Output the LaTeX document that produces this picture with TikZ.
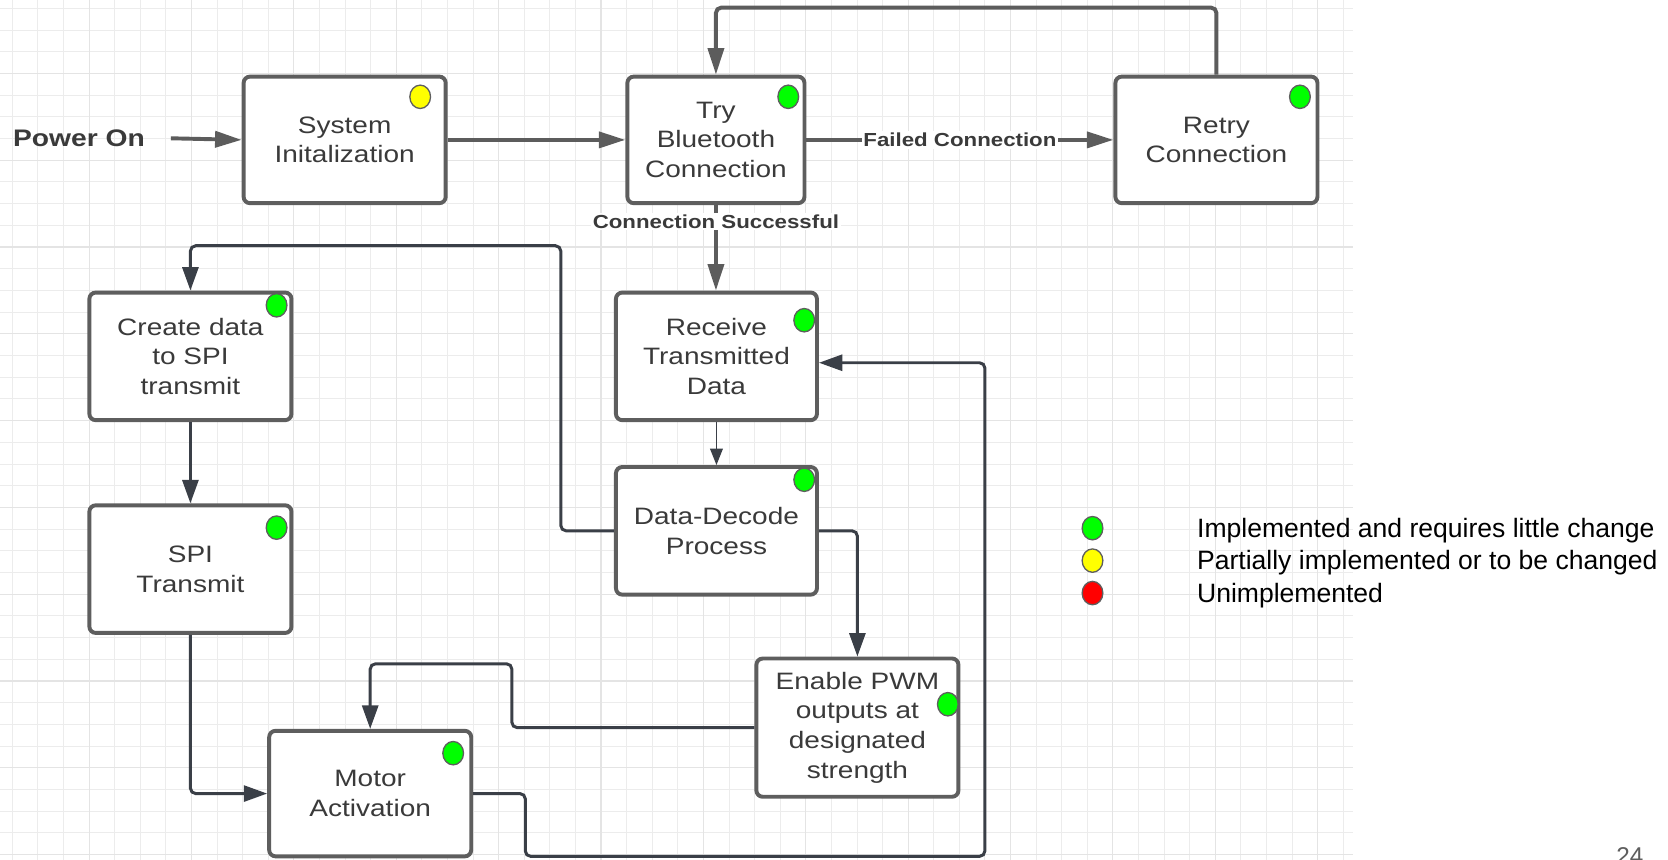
\documentclass[tikz,border=0pt]{standalone}
\usepackage{fontspec}
\setmainfont{Liberation Sans}
\newfontfamily\chartfont{Liberation Sans}[FakeStretch=1.18]
\usepackage{tikz}
\usetikzlibrary{arrows.meta,shapes.geometric}

\definecolor{boxgray}{RGB}{94,94,94}
\definecolor{flowgray}{RGB}{92,92,92}
\definecolor{linkgray}{RGB}{58,63,71}
\definecolor{txtgray}{RGB}{58,58,58}
\definecolor{gridminor}{RGB}{236,236,236}
\definecolor{gridmajor}{RGB}{228,228,228}
\definecolor{ledgreen}{RGB}{0,255,0}
\definecolor{ledyellow}{RGB}{255,255,0}
\definecolor{ledred}{RGB}{255,0,0}

\begin{document}
\begin{tikzpicture}[x=0.02cm,y=-0.02cm,
		state/.style={rectangle,draw=boxgray,line width=2.1pt,rounded corners=0.12cm,fill=white,text=txtgray,align=center,inner sep=0pt,font={\chartfont\fontsize{12.7}{15.9}\selectfont}},
		led/.style={ellipse,draw=boxgray,line width=0.7pt,minimum width=0.39cm,minimum height=0.44cm,inner sep=0pt},
		flow/.style={draw=flowgray,line width=2.1pt,-{Triangle[length=0.5cm,width=0.3cm]}},
		link/.style={draw=linkgray,line width=1.6pt,rounded corners=0.1cm,-{Triangle[length=0.44cm,width=0.3cm]}},
		tag/.style={fill=white,text=txtgray,inner sep=1pt,font={\chartfont\fontsize{10.1}{12}\selectfont\bfseries}},
		keytext/.style={anchor=base west,inner sep=0pt,font={\fontsize{14.2}{17.3}\selectfont}}]
		\useasboundingbox (0,0) rectangle (1568,808);
		\clip (0,0) rectangle (1568,808);

		% grid behind the chart
		\foreach \k in {0,...,52}
			\draw[gridminor,line width=0.5pt] ({11.6+24.06*\k},0) -- ({11.6+24.06*\k},808);
		\foreach \k in {0,...,39}
			\draw[gridminor,line width=0.5pt] (0,{7.8+20.4*\k}) -- (1272,{7.8+20.4*\k});
		\foreach \k in {3,7,...,51}
			\draw[gridmajor,line width=0.6pt] ({11.6+24.06*\k},0) -- ({11.6+24.06*\k},808);
		\foreach \k in {3,7,...,39}
			\draw[gridmajor,line width=0.6pt] (0,{7.8+20.4*\k}) -- (1272,{7.8+20.4*\k});

		% states
		\node[anchor=west,inner sep=0pt,text=txtgray,font={\chartfont\fontsize{12.8}{15}\selectfont\bfseries}] (power) at (12,130) {Power On};
		\node[state,minimum width=3.8cm,minimum height=2.38cm] (sysinit) at (324,131.5) {System\\Initalization};
		\node[state,minimum width=3.33cm,minimum height=2.38cm] (trybt) at (673,131.5) {Try\\Bluetooth\\Connection};
		\node[state,minimum width=3.8cm,minimum height=2.38cm] (retry) at (1143.5,131.5) {Retry\\Connection};
		\node[state,minimum width=3.8cm,minimum height=2.4cm] (create) at (179,335) {Create data\\to SPI\\transmit};
		\node[state,minimum width=3.78cm,minimum height=2.4cm] (receive) at (673.5,335) {Receive\\Transmitted\\Data};
		\node[state,minimum width=3.78cm,minimum height=2.4cm] (decode) at (673.5,499) {Data-Decode\\Process};
		\node[state,minimum width=3.8cm,minimum height=2.4cm] (spi) at (179,535) {SPI\\Transmit};
		\node[state,minimum width=3.8cm,minimum height=2.6cm] (pwm) at (806,684) {Enable PWM\\outputs at\\designated\\strength};
		\node[state,minimum width=3.8cm,minimum height=2.36cm] (motor) at (348,746) {Motor\\Activation};

		% status dots
		\node[led,fill=ledyellow] (dotinit) at (395,91) {};
		\node[led,fill=ledgreen] (dottry) at (741,91) {};
		\node[led,fill=ledgreen] (dotretry) at (1222,91) {};
		\node[led,fill=ledgreen] (dotcreate) at (260,287) {};
		\node[led,fill=ledgreen] (dotreceive) at (756,301) {};
		\node[led,fill=ledgreen] (dotdecode) at (756,451) {};
		\node[led,fill=ledgreen] (dotspi) at (260,496) {};
		\node[led,fill=ledgreen] (dotpwm) at (891,662) {};
		\node[led,fill=ledgreen] (dotmotor) at (426,708) {};

		% connection part
		\draw[flow] (power.east) ++(24,0) -- (sysinit.west);
		\draw[flow] (sysinit.east) -- (trybt.west);
		\draw[flow] (trybt.east) -- node[tag] {Failed Connection} (retry.west);
		\draw[flow,rounded corners=0.1cm] (retry.north) -- ++(0,-63) -| (trybt.north);
		\draw[flow] (trybt.south) -- node[tag,pos=0.19] {Connection Successful} (trybt.south |- receive.north);

		% data and motor part
		\draw[draw=linkgray,line width=0.8pt,-{Triangle[length=0.31cm,width=0.24cm]}] (receive.south) -- (decode.north);
		\draw[link] (decode.west) -- ++(-50,0) -- ++(0,-268) -| (create.north);
		\draw[link] (create.south) -- (spi.north);
		\draw[link] (spi.south) |- (motor.west);
		\draw[link] (decode.east) -| (pwm.north);
		\draw[link] (pwm.west) -- ++(-228,0) -- ++(0,-60) -| (motor.north);
		\draw[link] (motor.east) -- ++(49,0) -- ++(0,59) -- ++(432,0) |- ([yshift=-0.12cm]receive.east);

		% legend
		\node[led,fill=ledgreen] (keygreen) at (1027,496.5) {};
		\node[led,fill=ledyellow] (keyyellow) at (1027,527) {};
		\node[led,fill=ledred] (keyred) at (1027,557.5) {};
		\node[keytext] (keygreentxt) at (1125,505) {Implemented and requires little change};
		\node[keytext] (keyyellowtxt) at (1125,535.5) {Partially implemented or to be changed};
		\node[keytext] (keyredtxt) at (1125,566) {Unimplemented};

		% slide number
		\node[anchor=base west,inner sep=0pt,text=boxgray,font={\fontsize{13}{15}\selectfont}] (slideno) at (1519,813) {24};
\end{tikzpicture}
\end{document}
